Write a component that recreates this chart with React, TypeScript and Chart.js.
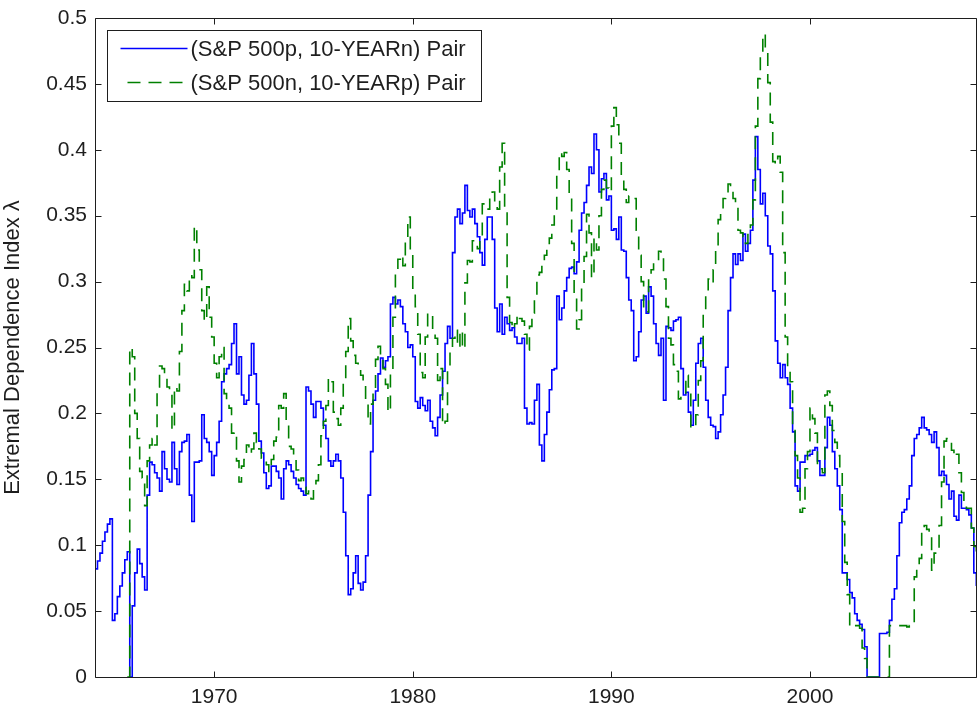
import React, { useEffect, useRef } from "react";
import { Chart, registerables } from "chart.js";

Chart.register(...registerables);

// ---- labels / ticks ----
const seriesLabels = ["(S&P 500p, 10-YEARn) Pair", "(S&P 500n, 10-YEARp) Pair"];
const yAxisTitle = "Extremal Dependence Index \u03bb";
const xTickYears = [1970, 1980, 1990, 2000];
const yTickValues = [0, 0.05, 0.1, 0.15, 0.2, 0.25, 0.3, 0.35, 0.4, 0.45, 0.5];
const xMin = 1964.0;
const xMax = 2008.41;
const firstYear = 1964.0; // first observation
const stepYears = 0.125; // sampling interval (1.5 months)

// ---- series values (one per 1/8 year, starting 1964.0) ----
const blueValues = [
  0.082, 0.088, 0.094, 0.103, 0.110, 0.116, 0.120, 0.043, 0.048, 0.061,
  0.069, 0.079, 0.089, 0.095, 0.0, 0.054, 0.079, 0.097, 0.086, 0.076,
  0.066, 0.138, 0.163, 0.161, 0.155, 0.151, 0.141, 0.171, 0.158, 0.150,
  0.148, 0.178, 0.158, 0.146, 0.171, 0.178, 0.179, 0.184, 0.138, 0.118,
  0.163, 0.163, 0.164, 0.199, 0.181, 0.178, 0.171, 0.153, 0.168, 0.178,
  0.194, 0.224, 0.23, 0.234, 0.237, 0.253, 0.268, 0.23, 0.243, 0.214,
  0.207, 0.21, 0.229, 0.253, 0.23, 0.207, 0.179, 0.170, 0.155, 0.143,
  0.145, 0.160, 0.160, 0.156, 0.151, 0.135, 0.158, 0.164, 0.161, 0.156,
  0.151, 0.146, 0.143, 0.141, 0.138, 0.22, 0.217, 0.207, 0.197, 0.209,
  0.209, 0.204, 0.191, 0.181, 0.164, 0.160, 0.164, 0.169, 0.164, 0.151,
  0.125, 0.092, 0.0625, 0.067, 0.079, 0.092, 0.071, 0.066, 0.072, 0.092,
  0.138, 0.171, 0.21, 0.217, 0.23, 0.242, 0.235, 0.240, 0.243, 0.283,
  0.288, 0.283, 0.286, 0.281, 0.268, 0.262, 0.25, 0.252, 0.243, 0.209,
  0.204, 0.212, 0.206, 0.202, 0.21, 0.194, 0.189, 0.183, 0.197, 0.214,
  0.232, 0.253, 0.266, 0.257, 0.322, 0.349, 0.355, 0.344, 0.352, 0.373,
  0.354, 0.349, 0.355, 0.344, 0.334, 0.322, 0.3125, 0.332, 0.349, 0.349,
  0.332, 0.28, 0.262, 0.283, 0.26, 0.273, 0.268, 0.263, 0.265, 0.258,
  0.253, 0.253, 0.257, 0.204, 0.192, 0.193, 0.192, 0.21, 0.222, 0.176,
  0.164, 0.184, 0.201, 0.218, 0.233, 0.234, 0.289, 0.271, 0.28, 0.293,
  0.303, 0.31, 0.311, 0.306, 0.315, 0.339, 0.352, 0.36, 0.373, 0.387,
  0.382, 0.412, 0.40, 0.368, 0.378, 0.382, 0.362, 0.365, 0.339, 0.34,
  0.332, 0.349, 0.324, 0.323, 0.303, 0.286, 0.278, 0.24, 0.243, 0.262,
  0.286, 0.289, 0.276, 0.296, 0.289, 0.268, 0.253, 0.244, 0.257, 0.21,
  0.266, 0.265, 0.263, 0.27, 0.271, 0.273, 0.234, 0.214, 0.216, 0.201,
  0.191, 0.21, 0.238, 0.253, 0.257, 0.235, 0.21, 0.197, 0.191, 0.19,
  0.181, 0.186, 0.199, 0.214, 0.235, 0.278, 0.303, 0.321, 0.313, 0.321,
  0.316, 0.336, 0.323, 0.329, 0.339, 0.377, 0.41, 0.385, 0.359, 0.367,
  0.35, 0.327, 0.321, 0.293, 0.255, 0.238, 0.227, 0.237, 0.227, 0.222,
  0.204, 0.186, 0.145, 0.141, 0.163, 0.163, 0.168, 0.168, 0.169, 0.172,
  0.174, 0.164, 0.153, 0.153, 0.174, 0.197, 0.191, 0.171, 0.158, 0.145,
  0.127, 0.079, 0.079, 0.074, 0.064, 0.06, 0.048, 0.043, 0.04, 0.036,
  0.023, 0.0, 0.0, 0.0, 0.0, 0.0, 0.033, 0.033, 0.033, 0.034,
  0.043, 0.059, 0.067, 0.092, 0.117, 0.125, 0.127, 0.135, 0.145, 0.168,
  0.181, 0.184, 0.189, 0.197, 0.189, 0.1875, 0.184, 0.178, 0.186, 0.174,
  0.153, 0.156, 0.153, 0.146, 0.135, 0.141, 0.122, 0.119, 0.138, 0.128,
  0.128, 0.127, 0.123, 0.113, 0.079, 0.069,
];

const greenValues = [
  null, null, null, null, null, null, null, null, null, null,
  null, null, null, 0.0, 0.25, 0.243, 0.2, 0.181, 0.156, 0.151,
  0.13, 0.164, 0.176, 0.181, 0.176, 0.22, 0.236, 0.234, 0.229, 0.22,
  0.219, 0.1875, 0.22, 0.217, 0.247, 0.278, 0.298, 0.293, 0.305, 0.303,
  0.342, 0.324, 0.309, 0.278, 0.27, 0.296, 0.273, 0.258, 0.238, 0.227,
  0.243, 0.25, 0.215, 0.207, 0.204, 0.185, 0.186, 0.164, 0.148, 0.16,
  0.165, 0.176, 0.17, 0.173, 0.185, 0.178, 0.173, 0.166, 0.164, 0.161,
  0.156, 0.165, 0.179, 0.182, 0.206, 0.204, 0.215, 0.194, 0.175, 0.173,
  0.164, 0.157, 0.149, 0.151, 0.144, 0.139, 0.141, 0.135, 0.145, 0.149,
  0.161, 0.183, 0.194, 0.206, 0.227, 0.224, 0.201, 0.196, 0.191, 0.204,
  0.223, 0.247, 0.272, 0.255, 0.244, 0.238, 0.235, 0.229, 0.224, 0.207,
  0.192, 0.207, 0.219, 0.241, 0.251, 0.241, 0.234, 0.222, 0.201, 0.23,
  0.273, 0.309, 0.317, 0.32, 0.312, 0.331, 0.349, 0.323, 0.295, 0.281,
  0.26, 0.231, 0.227, 0.258, 0.276, 0.276, 0.263, 0.257, 0.225, 0.234,
  0.191, 0.194, 0.235, 0.247, 0.257, 0.263, 0.25, 0.263, 0.249, 0.299,
  0.316, 0.315, 0.331, 0.33, 0.325, 0.334, 0.359, 0.357, 0.355, 0.367,
  0.368, 0.357, 0.355, 0.387, 0.405, 0.352, 0.288, 0.269, 0.264, 0.268,
  0.275, 0.272, 0.27, 0.26, 0.248, 0.266, 0.276, 0.289, 0.305, 0.307,
  0.3125, 0.32, 0.329, 0.333, 0.343, 0.354, 0.382, 0.398, 0.395, 0.398,
  0.385, 0.367, 0.329, 0.291, 0.264, 0.271, 0.295, 0.319, 0.351, 0.337,
  0.303, 0.333, 0.324, 0.35, 0.37, 0.377, 0.371, 0.368, 0.418, 0.432,
  0.419, 0.405, 0.379, 0.37, 0.36, 0.365, 0.365, 0.363, 0.339, 0.32,
  0.3, 0.281, 0.277, 0.303, 0.309, 0.315, 0.316, 0.323, 0.319, 0.302,
  0.281, 0.257, 0.252, 0.237, 0.232, 0.211, 0.214, 0.214, 0.229, 0.22,
  0.189, 0.191, 0.199, 0.225, 0.24, 0.277, 0.29, 0.302, 0.299, 0.309,
  0.327, 0.347, 0.353, 0.363, 0.367, 0.374, 0.372, 0.363, 0.36, 0.339,
  0.337, 0.334, 0.329, 0.339, 0.343, 0.362, 0.418, 0.454, 0.474, 0.488,
  0.475, 0.451, 0.421, 0.391, 0.389, 0.395, 0.383, 0.322, 0.258, 0.234,
  0.224, 0.191, 0.168, 0.151, 0.125, 0.128, 0.158, 0.171, 0.204, 0.196,
  0.185, 0.158, 0.158, 0.155, 0.214, 0.217, 0.206, 0.187, 0.178, 0.168,
  0.155, 0.118, 0.087, 0.0625, 0.039, 0.038, 0.039, 0.039, 0.037, 0.022,
  0.014, 0.0, 0.0, 0.0, 0.0, 0.0, 0.0, 0.0, 0.0, 0.0,
  0.039, 0.039, 0.039, 0.039, 0.039, 0.039, 0.039, 0.038, 0.039, 0.039,
  0.076, 0.082, 0.09, 0.112, 0.115, 0.112, 0.107, 0.081, 0.094, 0.095,
  0.115, 0.148, 0.179, 0.181, 0.18, 0.172, 0.167, 0.169, 0.155, 0.14,
  0.131, 0.128, 0.128, 0.113, 0.099, 0.095,
];

const FONT = '"Liberation Sans", Arial, Helvetica, sans-serif';
const TEXT_COLOR = "#1e1e1e";

const matlabFrame = {
  id: "matlabFrame",
  afterDraw(chart: any) {
    const { ctx, chartArea, scales } = chart;
    const { left, top, right, bottom } = chartArea;
    const xs = scales.x;
    const ys = scales.y;
    ctx.save();
    ctx.strokeStyle = "#1e1e1e";
    ctx.lineWidth = 1;
    ctx.setLineDash([]);
    const L = Math.round(left) + 0.5;
    const T = Math.round(top) + 0.5;
    const R = Math.round(right) - 0.5;
    const B = Math.round(bottom) + 0.5;
    ctx.beginPath();
    ctx.moveTo(L, T);
    ctx.lineTo(R, T);
    ctx.lineTo(R, B);
    ctx.lineTo(L, B);
    ctx.closePath();
    ctx.stroke();
    const tl = 6;
    ctx.beginPath();
    xTickYears.forEach((v) => {
      const px = Math.round(xs.getPixelForValue(v)) + 0.5;
      ctx.moveTo(px, B);
      ctx.lineTo(px, B - tl);
      ctx.moveTo(px, T);
      ctx.lineTo(px, T + tl);
    });
    yTickValues.forEach((v) => {
      const py = Math.round(ys.getPixelForValue(v)) + 0.5;
      ctx.moveTo(L, py);
      ctx.lineTo(L + tl, py);
      ctx.moveTo(R, py);
      ctx.lineTo(R - tl, py);
    });
    ctx.stroke();

    // legend box (inside the axes, top-left)
    const bx = L + 12;
    const by = T + 12;
    const bw = 374;
    const bh = 71;
    ctx.fillStyle = "#ffffff";
    ctx.fillRect(bx, by, bw, bh);
    ctx.strokeStyle = "#1e1e1e";
    ctx.strokeRect(bx, by, bw, bh);
    chart.data.datasets.forEach((ds: any, i: number) => {
      const cy = by + 18 + i * 34;
      ctx.save();
      ctx.strokeStyle = ds.borderColor;
      ctx.lineWidth = ds.borderWidth;
      const dash = ds.borderDash || [];
      ctx.setLineDash(dash);
      ctx.lineDashOffset = dash.length ? 14 : 0;
      ctx.beginPath();
      ctx.moveTo(bx + 13, cy);
      ctx.lineTo(bx + 80, cy);
      ctx.stroke();
      ctx.restore();
      ctx.fillStyle = TEXT_COLOR;
      ctx.font = `22px ${FONT}`;
      ctx.textBaseline = "middle";
      ctx.textAlign = "left";
      ctx.fillText(ds.label, bx + 83, cy + 1);
    });
    ctx.restore();
  },
};

export default function App() {
  const canvasRef = useRef<HTMLCanvasElement | null>(null);

  useEffect(() => {
    const canvas = canvasRef.current;
    if (!canvas) return;
    const blueData = blueValues.map((v, i) => ({ x: firstYear + i * stepYears, y: v }));
    const greenData = greenValues.map((v, i) => ({ x: firstYear + i * stepYears, y: v }));

    const chart = new Chart(canvas, {
      type: "line",
      data: {
        datasets: [
          {
            label: seriesLabels[0],
            data: blueData,
            borderColor: "#0000ff",
            borderWidth: 1.6,
            stepped: true,
            pointRadius: 0,
            fill: false,
            order: 1,
          },
          {
            label: seriesLabels[1],
            data: greenData as any,
            borderColor: "#008000",
            borderWidth: 1.6,
            borderDash: [13, 8],
            stepped: true,
            pointRadius: 0,
            fill: false,
            spanGaps: false,
            order: 0,
          },
        ],
      },
      options: {
        animation: false,
        responsive: true,
        maintainAspectRatio: false,
        events: [],
        layout: { padding: { left: 0, top: 18, right: 0, bottom: 0 } },
        plugins: {
          legend: { display: false },
          tooltip: { enabled: false },
          title: { display: false },
        },
        scales: {
          x: {
            type: "linear",
            min: xMin,
            max: xMax,
            grid: { display: false, drawTicks: false },
            border: { display: false },
            afterBuildTicks: (s: any) => {
              s.ticks = xTickYears.map((v) => ({ value: v }));
            },
            ticks: {
              padding: 8,
              color: TEXT_COLOR,
              font: { family: FONT, size: 21 },
              maxRotation: 0,
              autoSkip: false,
              callback: (v: any) => String(v),
            },
            afterFit: (s: any) => {
              s.height = 35;
              s.paddingLeft = 0;
              s.paddingRight = 0;
            },
          },
          y: {
            type: "linear",
            min: 0,
            max: 0.5,
            grid: { display: false, drawTicks: false },
            border: { display: false },
            afterBuildTicks: (s: any) => {
              s.ticks = yTickValues.map((v) => ({ value: v }));
            },
            ticks: {
              padding: 8,
              color: TEXT_COLOR,
              font: { family: FONT, size: 21 },
              autoSkip: false,
              callback: (v: any) => String(v),
            },
            title: {
              display: true,
              text: yAxisTitle,
              color: TEXT_COLOR,
              font: { family: FONT, size: 22 },
              padding: { top: 0, bottom: 0 },
            },
            afterFit: (s: any) => {
              s.width = 95;
              s.paddingTop = 0;
              s.paddingBottom = 0;
            },
          },
        },
      },
      plugins: [matlabFrame],
    });
    return () => chart.destroy();
  }, []);

  return (
    <div style={{ position: "absolute", left: 0, top: 0, width: 977, height: 712, background: "#fff" }}>
      <canvas ref={canvasRef} />
    </div>
  );
}
